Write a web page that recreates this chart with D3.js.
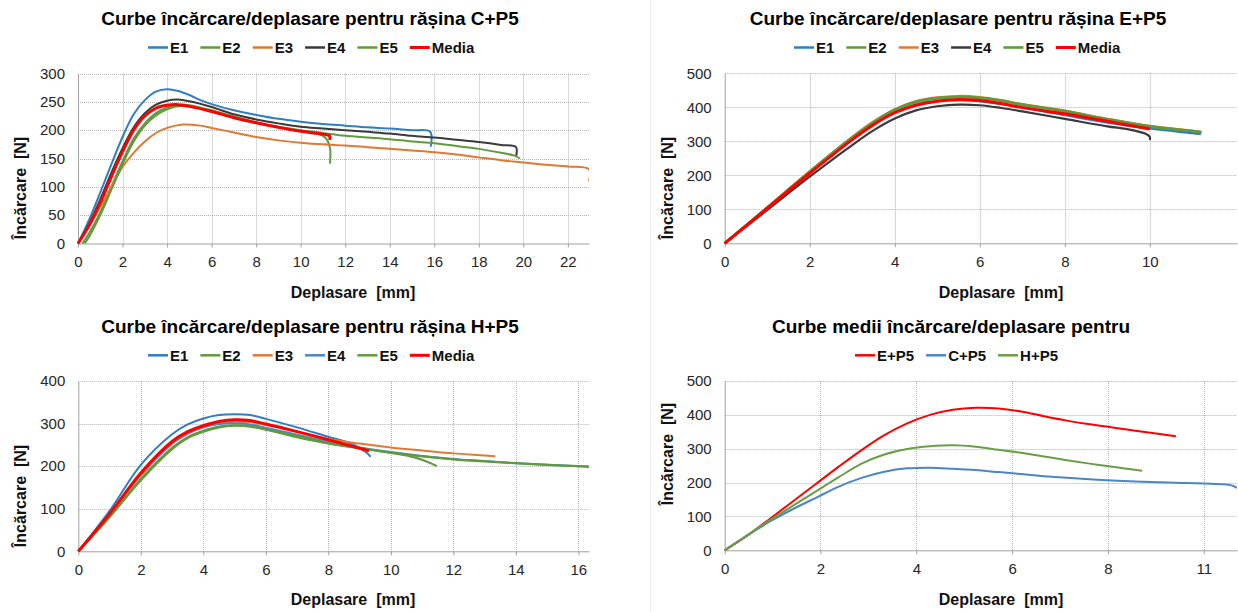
<!DOCTYPE html>
<html>
<head>
<meta charset="utf-8">
<script src="https://cdn.jsdelivr.net/npm/d3@7"></script>
<style>
  html, body { margin: 0; padding: 0; background: #fff; }
  svg { display: block; font-family: "Liberation Sans", Arial, sans-serif; }
</style>
</head>
<body>
<svg id="chart" width="1238" height="612"></svg>
<script>
// ---------- Load / displacement data: [displacement mm, load N] ----------

// C+P5 specimens
const cE1 = [[0,0],[0.5,42],[1,90],[1.5,140],[2,188],[2.5,228],[3,253],[3.5,268],[4,272],[4.5,269],[5,262],[5.5,253],[6,246],[7,235],[8,227],[9,220],[10,215],[11,211],[12,208],[13,205],[14,203],[15,200],[15.82,197],[15.84,171]];
const cE2 = [[0.2,0],[0.5,18],[1,55],[1.5,100],[2,145],[2.5,185],[3,212],[3.5,230],[4,240],[4.6,245],[5,244],[6,235],[7,224],[8,214],[9,205],[10,199],[10.6,195],[11,190],[11.2,182],[11.32,168],[11.32,141]];
const cE3 = [[0,0],[0.5,30],[1,65],[1.5,100],[2,135],[2.5,160],[3,180],[3.5,195],[4,204],[4.7,210],[5.5,208],[6,204],[7,196],[8,188],[9,182],[10,178],[11,175],[12,173],[13,170],[14,167],[15,164],[16,161],[17,157],[18,152],[19,147],[20,143],[21,139],[22,136],[22.95,131],[22.95,110]];
const cE4 = [[0,0],[0.5,35],[1,78],[1.5,125],[2,168],[2.5,205],[3,230],[3.5,245],[4,252],[4.5,254],[5,251],[6,241],[7,228],[8,219],[9,212],[10,206],[11,203],[12,200],[13,197],[14,194],[15,190],[16,187],[17,183],[18,179],[19,174],[19.67,170],[19.67,153]];
const cE5 = [[0.3,0],[0.5,12],[1,50],[1.5,95],[2,140],[2.5,180],[3,208],[3.5,226],[4,237],[4.7,243],[5,242],[6,234],[7,223],[8,213],[9,206],[10,200],[11,195],[12,190],[13,187],[14,184],[15,180],[16,177],[17,172],[18,167],[19,160],[19.6,155],[19.85,150]];
const cMedia = [[0,0],[0.5,32],[1,72],[1.5,118],[2,162],[2.5,200],[3,225],[3.5,239],[4,244],[4.5,245],[5,242],[6,233],[7,222],[8,213],[9,205],[10,198],[11,193],[11.3,190],[11.3,183]];

// E+P5 specimens
const eE1 = [[0,0],[1,103],[2,208],[3,307],[3.5,350],[4,386],[4.5,408],[5,418],[5.5,421],[6,418],[6.5,410],[7,400],[8,377],[9,355],[10,338],[11,324],[11.2,321]];
const eE2 = [[0,0],[1,105],[2,211],[3,311],[3.5,356],[4,392],[4.5,415],[5,426],[5.5,430],[6,427],[6.5,419],[7,407],[8,388],[9,364],[10,344],[11,330],[11.2,328]];
const eE3 = [[0,0],[1,106],[2,212],[3,313],[3.5,358],[4,394],[4.5,418],[5,429],[5.5,433],[6,430],[6.5,421],[7,409],[8,390],[9,366],[10,345],[11,331],[11.15,329]];
const eE4 = [[0,0],[1,98],[2,196],[3,289],[3.5,332],[4,367],[4.5,391],[5,403],[5.5,408],[6,406],[6.5,398],[7,388],[8,366],[9,344],[9.5,335],[9.9,322],[10,313],[10,304]];
const eE5 = [[0,0],[1,104],[2,210],[3,311],[3.5,356],[4,393],[4.5,416],[5,427],[5.5,431],[6,428],[6.5,420],[7,408],[8,389],[9,365],[10,344],[11,330],[11.22,326]];
const eMedia = [[0,0],[1,103],[2,206],[3,305],[3.5,349],[4,384],[4.5,406],[5,418],[5.5,423],[6,420],[6.5,411],[7,399],[8,381],[9,359],[10,336]];

// H+P5 specimens
const hE1 = [[0,0],[1,95],[2,203],[3,275],[3.5,298],[4,312],[4.5,320],[5,322],[5.5,320],[6,311],[7,291],[8,269],[8.6,256],[9,243],[9.2,233],[9.35,222]];
const hE2 = [[0,0],[1,82],[2,170],[3,243],[3.5,268],[4,283],[4.5,293],[5,296],[5.5,294],[6,286],[7,268],[8,253],[9,242],[10,231],[10.5,225],[11,215],[11.3,206],[11.47,200]];
const hE3 = [[0,0],[1,86],[2,178],[3,252],[3.5,276],[4,291],[4.5,300],[5,304],[5.5,303],[6,297],[7,281],[8,264],[9,253],[10,244],[11,237],[12,230],[13,225],[13.34,223]];
const hE4 = [[0,0],[1,87],[2,180],[3,253],[3.5,277],[4,291],[4.5,299],[5,301],[5.5,298],[6,290],[7,274],[8,257],[9,244],[10,233],[11,224],[12,217],[13,212],[14,207],[15,203],[16,200],[16.34,199]];
const hE5 = [[0,0],[1,80],[2,167],[3,240],[3.5,266],[4,281],[4.5,291],[5,295],[5.5,293],[6,286],[7,271],[8,254],[9,242],[10,232],[11,223],[12,216],[13,211],[14,207],[15,203],[16,200],[16.34,198.5]];
const hMedia = [[0,0],[1,88],[2,184],[3,258],[3.5,281],[4,295],[4.5,305],[5,309],[5.5,307],[6,299],[7,281],[8,262],[8.6,250],[9,242],[9.3,236]];

// Mean curves of the three resins
const meanE = [[0,0],[0.5,44],[1,94],[1.5,145],[2,196],[2.5,247],[3,296],[3.5,340],[4,375],[4.5,400],[5,415],[5.5,421],[6,419],[6.5,410],[7,396],[7.5,383],[8,372],[8.5,363],[9,353],[9.5,344],[9.89,337]];
const meanC = [[0,0],[0.5,44],[1,86],[1.5,122],[2,155],[2.5,188],[3,214],[3.5,232],[4,242],[4.5,244],[5,241],[5.5,237],[6,231],[6.5,225],[7,219],[7.5,214],[8,210],[8.5,206],[9,203],[9.5,201],[10,199],[10.5,197],[11,194],[11.15,190],[11.23,184]];
const meanH = [[0,0],[0.5,45],[1,90],[1.5,132],[2,174],[2.5,216],[3,256],[3.5,283],[4,299],[4.5,307],[5,310],[5.5,306],[6,297],[6.5,288],[7,277],[7.5,266],[8,256],[8.5,247],[9.15,235]];

// Titles, legend entries and axis ticks
const titles = [
  "Curbe încărcare/deplasare pentru rășina C+P5",
  "Curbe încărcare/deplasare pentru rășina E+P5",
  "Curbe încărcare/deplasare pentru rășina H+P5",
  "Curbe medii încărcare/deplasare pentru"
];
const specimenLabels = ["E1", "E2", "E3", "E4", "E5", "Media"];
const meanLabels = ["E+P5", "C+P5", "H+P5"];
const xAxisTitle = "Deplasare  [mm]";
const yAxisTitle = "Încărcare  [N]";

const xTicksC = [0,2,4,6,8,10,12,14,16,18,20,22];
const yTicksC = [0,50,100,150,200,250,300];
const xTicksE = [0,2,4,6,8,10];
const yTicksE = [0,100,200,300,400,500];
const xTicksH = [0,2,4,6,8,10,12,14,16];
const yTicksH = [0,100,200,300,400];
const xTicksM = [0,2.1,4.2,6.3,8.4,10.5];
const yTicksM = [0,100,200,300,400,500];

// ---------- Styling ----------
const BLUE = "#2f7ec4", BLUE2 = "#4a86c8", GREEN = "#5f9b3d", ORANGE = "#e07a32",
      DARK = "#3a3a3a", RED = "#ff0000", GREEN2 = "#6a9e45";

const panels = [
  {
    title: titles[0], labels: specimenLabels,
    series: [cE1, cE2, cE3, cE4, cE5, cMedia],
    colors: [BLUE, GREEN, ORANGE, DARK, GREEN, RED],
    widths: [2, 2, 2, 2, 2, 3],
    box: {left: 78, right: 589, top: 73.5, bottom: 243.5},
    xMax: 22.95, xTicks: xTicksC, yMax: 300, yTicks: yTicksC, xFormat: d3.format("d"),
    titleAt: [310, 25], legendAt: [148, 47.5], yTitleAt: [26, 188], xTitleAt: [353, 298]
  },
  {
    title: titles[1], labels: specimenLabels,
    series: [eE1, eE2, eE3, eE4, eE5, eMedia],
    colors: [BLUE, GREEN, ORANGE, DARK, GREEN, RED],
    widths: [2.4, 2.4, 2.4, 2.2, 2.6, 3],
    box: {left: 724.7, right: 1237, top: 73.3, bottom: 243.3},
    xMax: 12.05, xTicks: xTicksE, yMax: 500, yTicks: yTicksE, xFormat: d3.format("d"),
    titleAt: [958, 25], legendAt: [794, 47.5], yTitleAt: [673, 188], xTitleAt: [1001, 298]
  },
  {
    title: titles[2], labels: specimenLabels,
    series: [hE1, hE2, hE3, hE4, hE5, hMedia],
    colors: [BLUE, GREEN, ORANGE, BLUE2, GREEN, RED],
    widths: [2, 2, 2, 2, 2.2, 3],
    box: {left: 78.3, right: 589, top: 381, bottom: 551.3},
    xMax: 16.34, xTicks: xTicksH, yMax: 400, yTicks: yTicksH, xFormat: d3.format("d"),
    titleAt: [310, 332.5], legendAt: [148, 355.3], yTitleAt: [26, 496], xTitleAt: [353, 605]
  },
  {
    title: titles[3], labels: meanLabels,
    series: [meanE, meanC, meanH],
    colors: [RED, BLUE2, GREEN2],
    widths: [2, 2, 2],
    box: {left: 724.7, right: 1237, top: 381, bottom: 550.3},
    xMax: 11.23, xTicks: xTicksM, yMax: 500, yTicks: yTicksM, xFormat: d3.format(".0f"),
    titleAt: [951, 332.5], legendAt: [855, 355.3], yTitleAt: [673, 454], xTitleAt: [1001, 605]
  }
];

const svg = d3.select("#chart");
const FONT = '"Liberation Sans", Arial, sans-serif';

// faint border of the right-hand chart areas
svg.append("line")
  .attr("x1", 650.5).attr("x2", 650.5).attr("y1", 0).attr("y2", 612)
  .attr("stroke", "#ececec").attr("stroke-width", 1);

panels.forEach((p, i) => {
  const g = svg.append("g");
  const b = p.box;
  const x = d3.scaleLinear().domain([0, p.xMax]).range([b.left, b.right]);
  const y = d3.scaleLinear().domain([0, p.yMax]).range([b.bottom, b.top]);

  // dotted gridlines
  g.append("g").selectAll("line").data(p.yTicks.filter(v => v > 0)).join("line")
    .attr("x1", b.left).attr("x2", b.right)
    .attr("y1", d => Math.round(y(d)) + 0.5).attr("y2", d => Math.round(y(d)) + 0.5)
    .attr("stroke", "#b3b3b3").attr("stroke-width", 1).attr("stroke-dasharray", "1,1");
  g.append("g").selectAll("line").data(p.xTicks.filter(v => v > 0)).join("line")
    .attr("x1", d => Math.round(x(d)) + 0.5).attr("x2", d => Math.round(x(d)) + 0.5)
    .attr("y1", b.top).attr("y2", b.bottom)
    .attr("stroke", "#b3b3b3").attr("stroke-width", 1).attr("stroke-dasharray", "1,1");

  // axes
  const xAxis = g.append("g")
    .attr("transform", `translate(0,${b.bottom})`)
    .call(d3.axisBottom(x).tickValues(p.xTicks).tickFormat(p.xFormat)
      .tickSizeInner(4).tickSizeOuter(0).tickPadding(9));
  const yAxis = g.append("g")
    .attr("transform", `translate(${b.left},0)`)
    .call(d3.axisLeft(y).tickValues(p.yTicks).tickSize(0).tickPadding(13));
  [xAxis, yAxis].forEach(a => {
    a.attr("font-family", FONT).attr("font-size", 15);
    a.select(".domain").attr("stroke", "#a0a0a0").attr("stroke-width", 1);
    a.selectAll(".tick line").attr("stroke", "#a0a0a0");
    a.selectAll(".tick text").attr("fill", "#262626");
  });

  // curves (smooth, passing through every measured point)
  const clipId = "clip" + i;
  g.append("clipPath").attr("id", clipId).append("rect")
    .attr("x", b.left - 3).attr("y", b.top - 10)
    .attr("width", b.right - b.left + 3).attr("height", b.bottom - b.top + 14);
  const line = d3.line().x(d => x(d[0])).y(d => y(d[1])).curve(d3.curveCatmullRom.alpha(0.5));
  g.append("g").attr("clip-path", `url(#${clipId})`)
    .selectAll("path").data(p.series).join("path")
    .attr("d", line)
    .attr("fill", "none")
    .attr("stroke", (d, k) => p.colors[k])
    .attr("stroke-width", (d, k) => p.widths[k])
    .attr("stroke-linejoin", "round");

  // title
  g.append("text")
    .attr("x", p.titleAt[0]).attr("y", p.titleAt[1])
    .attr("text-anchor", "middle")
    .attr("font-size", 19).attr("font-weight", "bold").attr("fill", "#000")
    .text(p.title);

  // legend
  let lx = p.legendAt[0];
  const ly = p.legendAt[1];
  p.labels.forEach((lab, k) => {
    g.append("line")
      .attr("x1", lx).attr("x2", lx + 20).attr("y1", ly).attr("y2", ly)
      .attr("stroke", p.colors[k]).attr("stroke-width", Math.max(2.5, p.widths[k]));
    const t = g.append("text")
      .attr("x", lx + 22).attr("y", ly + 5.5)
      .attr("font-size", 15).attr("font-weight", "bold").attr("fill", "#111")
      .text(lab);
    lx += 22 + t.node().getComputedTextLength() + 12;
  });

  // axis titles
  g.append("text")
    .attr("x", p.xTitleAt[0]).attr("y", p.xTitleAt[1])
    .attr("text-anchor", "middle").attr("xml:space", "preserve")
    .style("white-space", "pre")
    .attr("font-size", 16).attr("font-weight", "bold").attr("fill", "#111")
    .text(xAxisTitle);
  g.append("text")
    .attr("transform", `translate(${p.yTitleAt[0]},${p.yTitleAt[1]}) rotate(-90)`)
    .attr("text-anchor", "middle").attr("xml:space", "preserve")
    .style("white-space", "pre")
    .attr("font-size", 16).attr("font-weight", "bold").attr("fill", "#111")
    .text(yAxisTitle);
});
</script>
</body>
</html>
